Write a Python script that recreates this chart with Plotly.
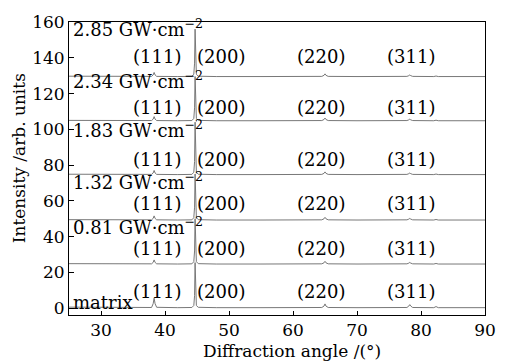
import plotly.graph_objects as go

# Diffraction angle sample points (degrees)
two_theta = [25, 30, 35, 37.9, 38.15, 38.3, 38.45, 38.7, 42, 44.2, 44.5, 44.62, 44.7,
             44.78, 44.9, 45.2, 48, 55, 60, 64.5, 64.85, 65.0, 65.15, 65.5, 70, 75,
             77.8, 78.1, 78.25, 78.4, 78.7, 82.0, 82.35, 82.7, 86, 90]

# Offset (stacked) intensities
matrix = [0.6, 0.4, 0.3, 0.4, 2.5, 5.6, 2.5, 0.5, 0.3, 0.4, 1.5, 7.0, 25.5, 7.0, 1.5, 0.5,
          0.3, 0.3, 0.3, 0.4, 1.2, 2.4, 1.2, 0.4, 0.3, 0.3, 0.4, 1.2, 2.0, 1.2, 0.4, 0.3,
          0.9, 0.3, 0.3, 0.3]
p081 = [24.9, 24.8, 24.7, 24.8, 25.6, 27.0, 25.6, 24.8, 24.7, 24.8, 26.0, 32.0, 50.0,
        32.0, 26.0, 24.9, 24.7, 24.7, 24.7, 24.8, 25.4, 26.2, 25.4, 24.8, 24.7, 24.7,
        24.8, 25.2, 25.6, 25.2, 24.8, 24.7, 25.0, 24.7, 24.7, 24.7]
p132 = [49.5, 49.4, 49.3, 49.4, 50.2, 51.6, 50.2, 49.4, 49.3, 49.4, 50.6, 56.5, 75.0,
        56.5, 50.6, 49.5, 49.3, 49.3, 49.3, 49.4, 50.0, 50.8, 50.0, 49.4, 49.3, 49.3,
        49.4, 49.8, 50.2, 49.8, 49.4, 49.3, 49.6, 49.3, 49.3, 49.3]
p183 = [74.9, 74.8, 74.7, 74.8, 75.6, 77.0, 75.6, 74.8, 74.7, 74.8, 76.0, 82.0, 104.0,
        82.0, 76.0, 74.9, 74.7, 74.7, 74.7, 74.8, 75.4, 76.2, 75.4, 74.8, 74.7, 74.7,
        74.8, 75.2, 75.6, 75.2, 74.8, 74.7, 75.0, 74.7, 74.7, 74.7]
p234 = [105.0, 104.9, 104.8, 104.9, 105.7, 107.1, 105.7, 104.9, 104.8, 104.9, 106.1,
        112.0, 129.5, 112.0, 106.1, 105.0, 104.8, 104.8, 104.8, 104.9, 105.5, 106.3,
        105.5, 104.9, 104.8, 104.8, 104.9, 105.3, 105.7, 105.3, 104.9, 104.8, 105.1,
        104.8, 104.8, 104.8]
p285 = [129.7, 129.6, 129.5, 129.6, 130.4, 131.8, 130.4, 129.6, 129.5, 129.6, 130.8,
        137.0, 156.0, 137.0, 130.8, 129.7, 129.5, 129.5, 129.5, 129.6, 130.2, 131.0,
        130.2, 129.6, 129.5, 129.5, 129.6, 130.0, 130.4, 130.0, 129.6, 129.5, 129.8,
        129.5, 129.5, 129.5]

series = [matrix, p081, p132, p183, p234, p285]

# Sample labels and their positions
sample_labels = ["matrix", "0.81 GW·cm<sup>−2</sup>", "1.32 GW·cm<sup>−2</sup>",
                 "1.83 GW·cm<sup>−2</sup>", "2.34 GW·cm<sup>−2</sup>", "2.85 GW·cm<sup>−2</sup>"]
sample_label_y = [3.3, 46.0, 71.0, 100.0, 127.5, 156.5]
sample_label_x = 25.35

# Miller index labels
hkl_labels = ["(111)", "(200)", "(220)", "(311)"]
hkl_x = [38.7, 48.75, 64.4, 78.4]
hkl_row_y = [9.6, 33.4, 58.6, 83.3, 112.3, 140.5]

x_ticks = [30, 40, 50, 60, 70, 80, 90]
y_ticks = [0, 20, 40, 60, 80, 100, 120, 140, 160]

FONT = "DejaVu Serif"
fig = go.Figure()
for s in series:
    fig.add_trace(go.Scatter(x=two_theta, y=s, mode="lines",
                             line=dict(color="#787878", width=1), showlegend=False,
                             hoverinfo="skip"))

W, H = 511, 363
ml, mr, mt, mb = 69, 26, 16, 48

annotations = []
for lab, yy in zip(sample_labels, sample_label_y):
    annotations.append(dict(x=sample_label_x, y=yy, xref="x", yref="y", text=lab,
                            showarrow=False, xanchor="left", yanchor="middle",
                            font=dict(family=FONT, size=18, color="black")))
for ry in hkl_row_y:
    for lab, hx in zip(hkl_labels, hkl_x):
        annotations.append(dict(x=hx, y=ry, xref="x", yref="y", text=lab,
                                showarrow=False, xanchor="center", yanchor="middle",
                                font=dict(family=FONT, size=18, color="black")))
annotations.append(dict(x=(292 - ml) / (W - ml - mr), y=1 - (352 - mt) / (H - mt - mb),
                        xref="paper", yref="paper", text="Diffraction angle /(°)",
                        showarrow=False, xanchor="center", yanchor="middle",
                        font=dict(family=FONT, size=17, color="black")))
annotations.append(dict(x=(19 - ml) / (W - ml - mr), y=1 - (155 - mt) / (H - mt - mb),
                        xref="paper", yref="paper", text="Intensity /arb. units",
                        showarrow=False, textangle=-90, xanchor="center", yanchor="middle",
                        font=dict(family=FONT, size=17, color="black")))

fig.update_layout(
    width=W, height=H, margin=dict(l=ml, r=mr, t=mt, b=mb),
    paper_bgcolor="white", plot_bgcolor="white",
    font=dict(family=FONT, size=17, color="black"),
    annotations=annotations,
    xaxis=dict(range=[25, 90], tickvals=x_ticks, ticks="inside", ticklen=4,
               tickcolor="black", showline=True, linecolor="black", linewidth=1,
               mirror=True, showgrid=False, zeroline=False,
               tickfont=dict(family=FONT, size=17, color="black")),
    yaxis=dict(range=[-3.8, 160], tickvals=y_ticks, ticks="inside", ticklen=5,
               tickcolor="black", showline=True, linecolor="black", linewidth=1,
               mirror=True, showgrid=False, zeroline=False,
               tickfont=dict(family=FONT, size=17, color="black")),
)
fig.write_html("out.html")
